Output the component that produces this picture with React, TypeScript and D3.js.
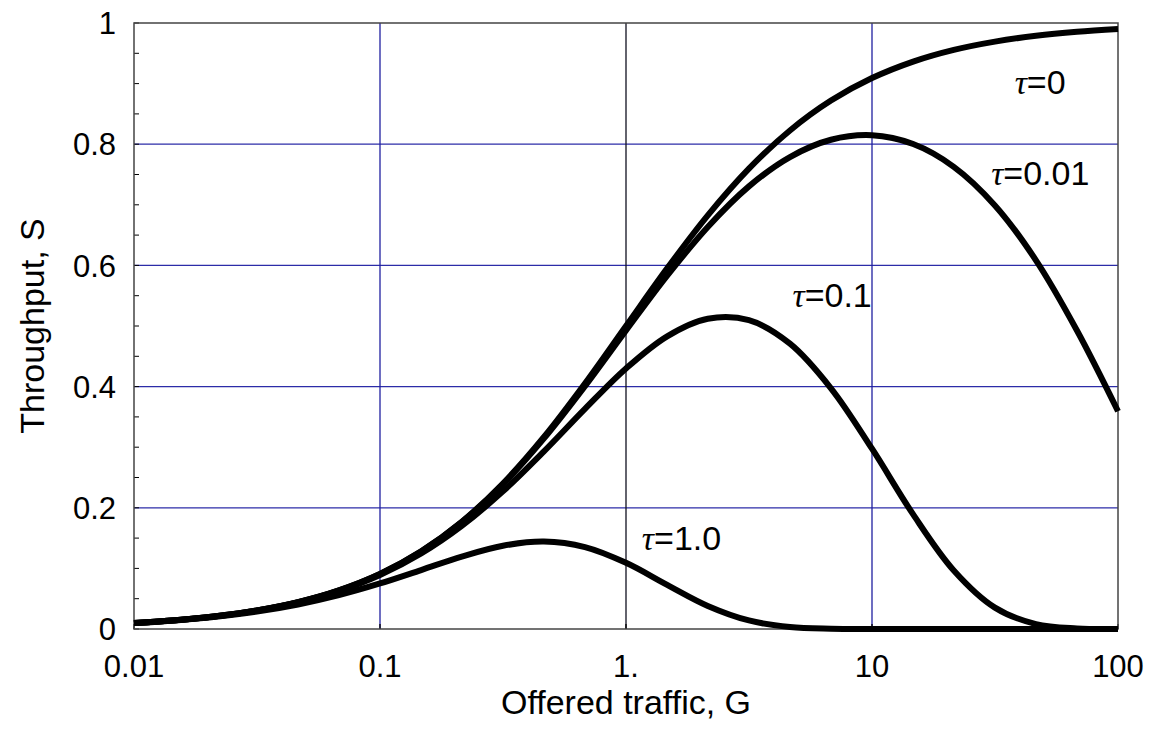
import React from "react";
import * as d3 from "d3";

// offered traffic G (log spaced)
const traffic = [
  0.01, 0.0147, 0.0215, 0.0316, 0.0464, 0.0681,
  0.1, 0.147, 0.215, 0.316, 0.464, 0.681,
  1, 1.47, 2.15, 3.16, 4.64, 6.81,
  10, 14.7, 21.5, 31.6, 46.4, 68.1, 100,
];

const tau0 = [
  0.0099, 0.0145, 0.021, 0.0306, 0.0443, 0.0638,
  0.0909, 0.1282, 0.177, 0.2401, 0.3169, 0.4051,
  0.5, 0.5951, 0.6825, 0.7596, 0.8227, 0.872,
  0.9091, 0.9363, 0.9556, 0.9693, 0.9789, 0.9855, 0.9901,
];
const tau001 = [
  0.0099, 0.0145, 0.021, 0.0306, 0.0443, 0.0637,
  0.0907, 0.1278, 0.1763, 0.2388, 0.3145, 0.4007,
  0.4926, 0.583, 0.6635, 0.7304, 0.7788, 0.8073,
  0.8148, 0.8003, 0.7627, 0.699, 0.6084, 0.4926, 0.3594,
];
const tau01 = [
  0.0099, 0.0144, 0.021, 0.0304, 0.0439, 0.0629,
  0.0892, 0.1247, 0.1702, 0.2271, 0.2931, 0.3632,
  0.4299, 0.483, 0.512, 0.5096, 0.4708, 0.3972,
  0.2975, 0.1891, 0.0966, 0.0353, 0.0081, 0.0009, 0.0,
];
const tau1 = [
  0.0097, 0.0141, 0.0202, 0.0288, 0.0405, 0.0559,
  0.0751, 0.0973, 0.1195, 0.1374, 0.1444, 0.1352,
  0.1092, 0.0728, 0.0381, 0.0141, 0.0032, 0.0004,
  0.0, 0.0, 0.0, 0.0, 0.0, 0.0, 0.0,
];

const seriesNames = ["0", "0.01", "0.1", "1.0"];
const seriesValues = [tau0, tau001, tau01, tau1];
// label anchor in data units (G, S)
const labelPos: [number, number][] = [
  [38, 0.883],
  [30.5, 0.733],
  [4.75, 0.532],
  [1.16, 0.131],
];

const xTicks = [0.01, 0.1, 1, 10, 100];
const xTickLabels = ["0.01", "0.1", "1.", "10", "100"];
const yTicks = [0, 0.2, 0.4, 0.6, 0.8, 1];
const yTickLabels = ["0", "0.2", "0.4", "0.6", "0.8", "1"];

const W = 1152;
const H = 730;
const margin = { top: 23, right: 34, bottom: 101, left: 134 };
const sans = "'Liberation Sans', Arial, sans-serif";

export default function App() {
  const x = d3.scaleLog().domain([0.01, 100]).range([margin.left, W - margin.right]);
  const y = d3.scaleLinear().domain([0, 1]).range([H - margin.bottom, margin.top]);
  const line = d3
    .line<[number, number]>()
    .x((d) => x(d[0]))
    .y((d) => y(d[1]))
    .curve(d3.curveCatmullRom.alpha(0.5));

  const x0 = x.range()[0];
  const x1 = x.range()[1];
  const y0 = y.range()[0];
  const y1 = y.range()[1];
  const minorY = d3.range(0, 1.0001, 0.05);

  return (
    <svg
      width={W}
      height={H}
      style={{ position: "absolute", left: 0, top: 0, background: "#fff" }}
    >
      {/* grid */}
      {yTicks.slice(1, -1).map((t) => (
        <line key={"gy" + t} x1={x0} x2={x1} y1={y(t)} y2={y(t)} stroke="#2c2ca8" strokeWidth={1.3} />
      ))}
      {xTicks.slice(1, -1).map((t) => (
        <line
          key={"gx" + t}
          x1={x(t)}
          x2={x(t)}
          y1={y0}
          y2={y1}
          stroke={t === 1 ? "#101020" : "#2020a0"}
          strokeWidth={1.3}
        />
      ))}
      {/* ticks */}
      {minorY.map((t) => (
        <line key={"ty" + t} x1={x0} x2={x0 + 5} y1={y(t)} y2={y(t)} stroke="#000" strokeWidth={1} />
      ))}
      {xTicks.map((t) => (
        <line key={"tx" + t} x1={x(t)} x2={x(t)} y1={y0} y2={y0 - 5} stroke="#000" strokeWidth={1.3} />
      ))}
      {/* frame */}
      <rect x={x0} y={y1} width={x1 - x0} height={y0 - y1} fill="none" stroke="#444" strokeWidth={1.5} />

      {/* curves */}
      {seriesValues.map((vals, i) => (
        <path
          key={"s" + i}
          d={line(traffic.map((g, j) => [g, vals[j]] as [number, number])) || ""}
          fill="none"
          stroke="#000"
          strokeWidth={6}
          strokeLinejoin="round"
        />
      ))}

      {/* curve labels */}
      {seriesNames.map((n, i) => (
        <text key={"l" + i} x={x(labelPos[i][0])} y={y(labelPos[i][1])} fontSize={34} fill="#000">
          <tspan fontFamily="'Liberation Serif', 'Times New Roman', serif" fontStyle="italic">
            τ
          </tspan>
          <tspan fontFamily={sans}>={n}</tspan>
        </text>
      ))}

      {/* tick labels */}
      {xTicks.map((t, i) => (
        <text key={"xl" + t} x={x(t)} y={677} textAnchor="middle" fontFamily={sans} fontSize={31} fill="#000">
          {xTickLabels[i]}
        </text>
      ))}
      {yTicks.map((t, i) => (
        <text
          key={"yl" + t}
          x={x0 - 18}
          y={y(t)}
          dy="0.36em"
          textAnchor="end"
          fontFamily={sans}
          fontSize={31}
          fill="#000"
        >
          {yTickLabels[i]}
        </text>
      ))}

      {/* axis titles */}
      <text x={(x0 + x1) / 2} y={714} textAnchor="middle" fontFamily={sans} fontSize={34} fill="#000">
        Offered traffic, G
      </text>
      <text
        transform={`translate(44,${(y0 + y1) / 2}) rotate(-90)`}
        textAnchor="middle"
        fontFamily={sans}
        fontSize={34}
        fill="#000"
      >
        Throughput, S
      </text>
    </svg>
  );
}
